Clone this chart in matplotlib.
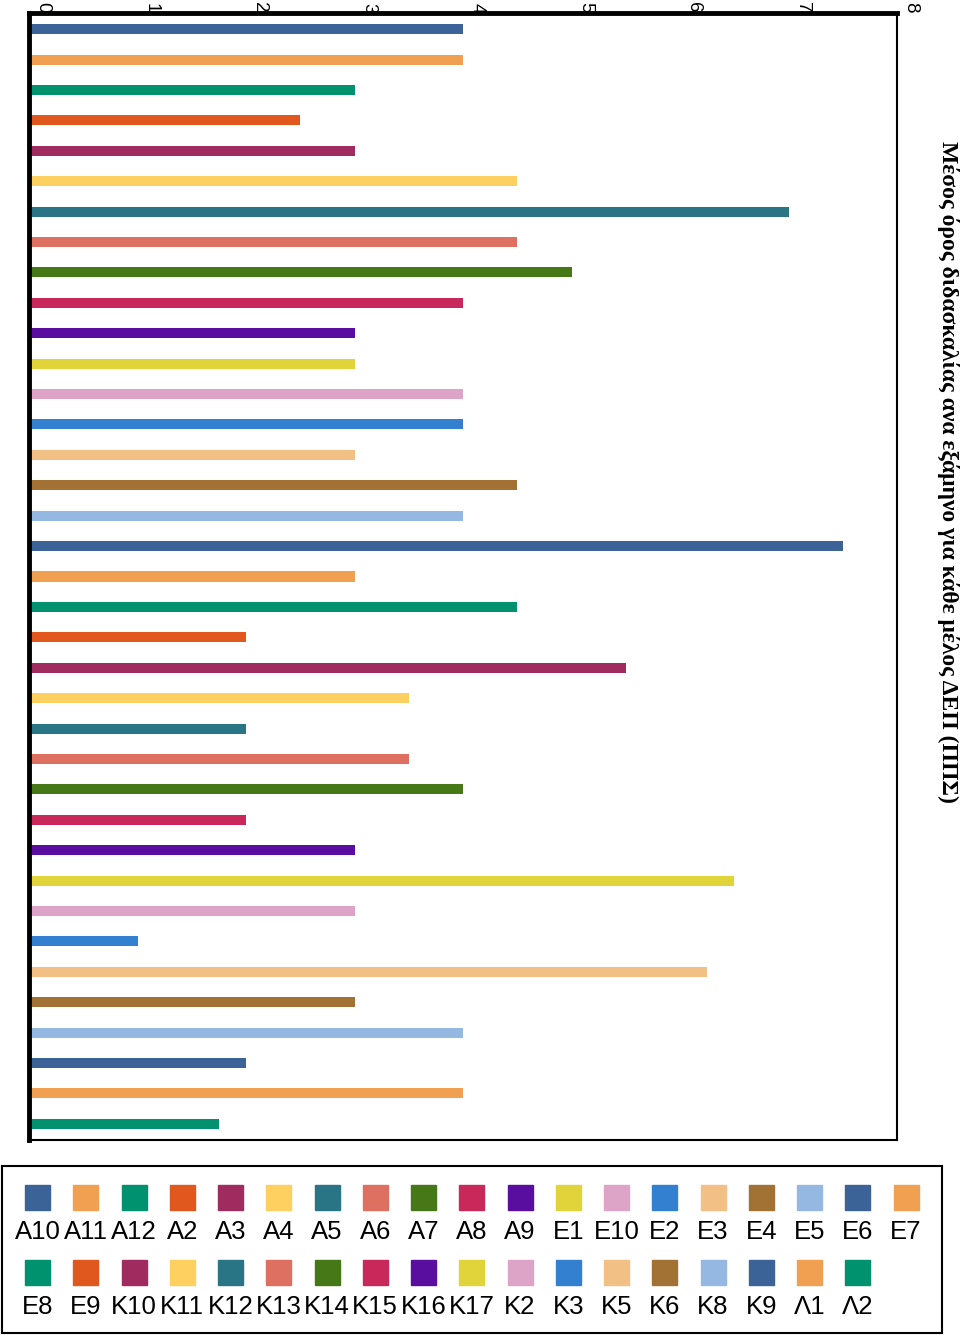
import matplotlib
matplotlib.use('Agg')
import matplotlib.pyplot as plt
from matplotlib.patches import Rectangle
from matplotlib.transforms import ScaledTranslation

# μέλη ΔΕΠ και μέσος όρος διδασκαλίας
members = ['Α10', 'Α11', 'Α12', 'Α2', 'Α3', 'Α4', 'Α5', 'Α6', 'Α7', 'Α8', 'Α9',
           'Ε1', 'Ε10', 'Ε2', 'Ε3', 'Ε4', 'Ε5', 'Ε6', 'Ε7', 'Ε8', 'Ε9',
           'Κ10', 'Κ11', 'Κ12', 'Κ13', 'Κ14', 'Κ15', 'Κ16', 'Κ17', 'Κ2', 'Κ3',
           'Κ5', 'Κ6', 'Κ8', 'Κ9', 'Λ1', 'Λ2']
values = [4, 4, 3, 2.5, 3, 4.5, 7, 4.5, 5, 4, 3,
          3, 4, 4, 3, 4.5, 4, 7.5, 3, 4.5, 2,
          5.5, 3.5, 2, 3.5, 4, 2, 3, 6.5, 3, 1,
          6.25, 3, 4, 2, 4, 1.75]
xticks = [0, 1, 2, 3, 4, 5, 6, 7, 8]
title = 'Μέσος όρος διδασκαλίας ανα εξάμηνο για κάθε μέλος ΔΕΠ (ΠΠΣ)'

palette = ['#3B6398', '#F0A050', '#00916E', '#E0581E', '#A02B5E', '#FDD060',
           '#2A7585', '#DD7060', '#467818', '#C8285A', '#5A0EA0', '#E0D43A',
           '#DDA4C8', '#3480D0', '#F2C084', '#A27234', '#94B8E2']
colors = [palette[i % len(palette)] for i in range(len(members))]

W, H = 960, 1335
fig = plt.figure(figsize=(W / 100, H / 100), dpi=100)


def px_axes(x0, y0, x1, y1):
    return fig.add_axes([x0 / W, 1 - y1 / H, (x1 - x0) / W, (y1 - y0) / H])


# κύριο διάγραμμα
ax = px_axes(29, 13, 897, 1140)
ypos = list(range(len(members)))
ax.barh(ypos, values, height=0.33, color=colors, zorder=2)
ax.set_xlim(0, 8)
ax.set_ylim(len(members) - 0.47, -0.53)
ax.set_yticks([])
ax.xaxis.tick_top()
ax.set_xticks(xticks)
ax.set_xticklabels([str(t) for t in xticks], rotation=270, fontsize=13.5,
                   family='Liberation Sans')
ax.tick_params(axis='x', length=0, pad=0)
off = ScaledTranslation(14 / 100, 0, fig.dpi_scale_trans)
for lab in ax.get_xticklabels():
    lab.set_transform(lab.get_transform() + off)
ax.spines['top'].set_linewidth(3.5)
ax.spines['left'].set_linewidth(3.5)
ax.spines['right'].set_linewidth(1.5)
ax.spines['bottom'].set_linewidth(1.5)

fig.text(948 / W, 1 - 472 / H, title, rotation=270, ha='center', va='center',
         fontsize=17, fontweight='bold', family='Liberation Serif')

# υπόμνημα
lg = px_axes(2, 1166, 942, 1333)
lg.set_xlim(2, 942)
lg.set_ylim(1333, 1166)
lg.set_xticks([])
lg.set_yticks([])
for s in lg.spines.values():
    s.set_linewidth(1.5)
ncol = 19
for i, (name, c) in enumerate(zip(members, colors)):
    row, col = divmod(i, ncol)
    cx = 37.5 + 48.25 * col
    sy = 1197.5 + 75 * row
    ty = 1232 + 75 * row
    lg.add_patch(Rectangle((cx - 12.5, sy - 12.5), 25, 25, color=c))
    lg.text(cx, ty, name, ha='center', va='center', fontsize=18.5,
            family='Liberation Sans')

fig.savefig('out.png', dpi=100)
